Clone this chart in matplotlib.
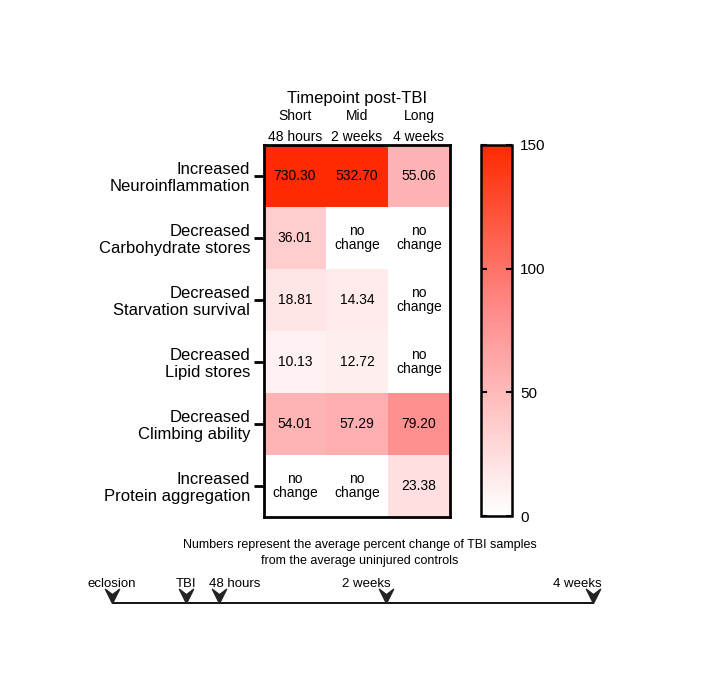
import numpy as np
import matplotlib
matplotlib.use('Agg')
import matplotlib.pyplot as plt
from matplotlib.colors import LinearSegmentedColormap
from matplotlib.path import Path

plt.rcParams['font.family'] = ['Liberation Sans', 'DejaVu Sans']

# data
rows = ['Increased\nNeuroinflammation', 'Decreased\nCarbohydrate stores',
        'Decreased\nStarvation survival', 'Decreased\nLipid stores',
        'Decreased\nClimbing ability', 'Increased\nProtein aggregation']
cols = ['Short\n48 hours', 'Mid\n2 weeks', 'Long\n4 weeks']
# nan = no change
values = np.array([
    [730.30, 532.70, 55.06],
    [36.01, np.nan, np.nan],
    [18.81, 14.34, np.nan],
    [10.13, 12.72, np.nan],
    [54.01, 57.29, 79.20],
    [np.nan, np.nan, 23.38],
])
cbar_ticks = [0, 50, 100, 150]

events = ['eclosion', 'TBI', '48 hours', '2 weeks', '4 weeks']
event_days = [0, 5.1, 7.4, 18.9, 33.2]
label_shift = [0, 0, 11, -14, -11]  # points, label offset from arrow

cmap = LinearSegmentedColormap.from_list(
    'wr', [(0, '#FFFFFF'), (0.55, '#FF8C8C'), (1.0, '#FF2A00')])
cmap.set_bad('white')

fig = plt.figure(figsize=(7.09, 6.91), dpi=100)

W, H = 709, 691
ax = fig.add_axes([264 / W, 1 - 517 / H, 186 / W, 372 / H])
masked = np.ma.masked_invalid(values)
im = ax.pcolormesh(masked, cmap=cmap, vmin=0, vmax=150)
ax.set_xlim(0, 3)
ax.set_ylim(6, 0)

for i in range(values.shape[0]):
    for j in range(values.shape[1]):
        v = values[i, j]
        txt = 'no\nchange' if np.isnan(v) else '%.2f' % v
        ax.text(j + 0.5, i + 0.5, txt, ha='center', va='center', fontsize=10,
                linespacing=1.05, color='black')

ax.set_yticks(np.arange(len(rows)) + 0.5)
ax.set_yticklabels(rows, fontsize=12, linespacing=1.1)
ax.tick_params(axis='y', length=7, width=2, pad=3)
ax.xaxis.tick_top()
ax.set_xticks(np.arange(len(cols)) + 0.5)
ax.set_xticklabels(cols, fontsize=10, linespacing=1.6)
ax.tick_params(axis='x', length=0, pad=1)
ax.set_title('Timepoint post-TBI', fontsize=12, pad=30)
for s in ax.spines.values():
    s.set_linewidth(2)

cax = fig.add_axes([481 / W, 1 - 516 / H, 31 / W, 371 / H])
cb = fig.colorbar(im, cax=cax, ticks=cbar_ticks)
cb.outline.set_linewidth(1.8)
cax.tick_params(direction='in', left=True, right=True, length=4, width=1.5,
                labelsize=11, pad=6)

fig.text(360 / W, 1 - 553 / H,
         'Numbers represent the average percent change of TBI samples\n'
         'from the average uninjured controls',
         ha='center', va='center', fontsize=9, linespacing=1.35)

# timeline
tax = fig.add_axes([112 / W, 1 - 640 / H, 481 / W, 74 / H])
tax.set_xlim(0, 33.2)
tax.set_ylim(-1, 1)
tax.axis('off')
tax.plot([event_days[0], event_days[-1]], [0, 0], color='black', lw=1.3,
         solid_capstyle='butt')
head = Path([(0, 0), (-0.5, 1), (0, 0.62), (0.5, 1), (0, 0)],
            [Path.MOVETO, Path.LINETO, Path.LINETO, Path.LINETO, Path.CLOSEPOLY])
tax.scatter(event_days, [0] * len(event_days), marker=head, s=420,
            color='#222222', clip_on=False, zorder=3)
for d, lab, sh in zip(event_days, events, label_shift):
    tax.annotate(lab, (d, 0), xytext=(sh, 13.5), textcoords='offset points',
                 ha='center', va='center', fontsize=9.5)

fig.savefig('out.png', dpi=100)
